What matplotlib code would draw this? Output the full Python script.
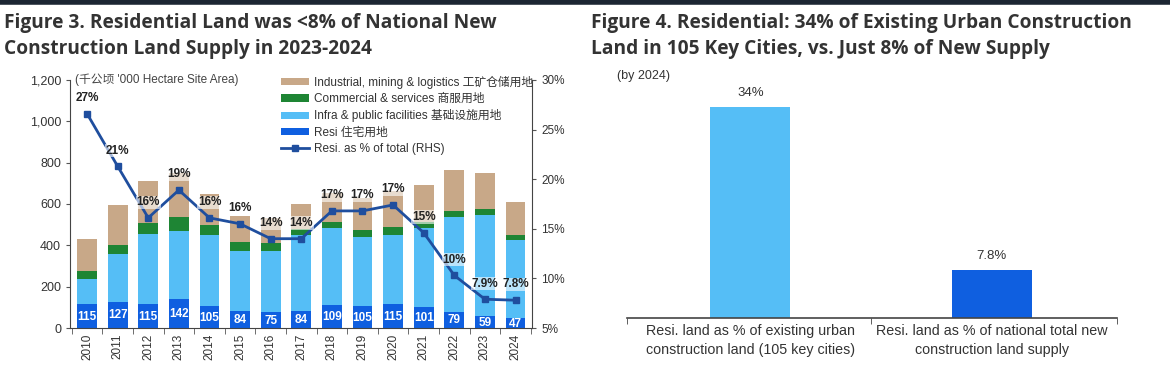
import matplotlib.pyplot as plt
import numpy as np

plt.rcParams['font.family'] = ['Liberation Sans', 'Noto Sans CJK SC', 'DejaVu Sans']

# Figure 3 data ('000 hectares)
years = ["2010", "2011", "2012", "2013", "2014", "2015", "2016", "2017",
         "2018", "2019", "2020", "2021", "2022", "2023", "2024"]
resi = [115, 127, 115, 142, 105, 84, 75, 84, 109, 105, 115, 101, 79, 59, 47]
infra = [122, 231, 340, 326, 345, 290, 299, 368, 374, 334, 337, 383, 457, 489, 379]
commercial = [40, 44, 53, 68, 49, 41, 36, 27, 32, 35, 38, 31, 32, 28, 26]
industrial = [154, 193, 202, 214, 151, 127, 120, 121, 140, 156, 175, 177, 198, 174, 156]
resi_pct = [26.6, 21.3, 16.1, 18.9, 16.1, 15.5, 14.0, 14.0, 16.8, 16.8, 17.4, 14.6, 10.3, 7.9, 7.8]
pct_labels = ["27%", "21%", "16%", "19%", "16%", "16%", "14%", "14%", "17%", "17%",
              "17%", "15%", "10%", "7.9%", "7.8%"]

# Figure 4 data
cats4 = ["Resi. land as % of existing urban\nconstruction land (105 key cities)",
         "Resi. land as % of national total new\nconstruction land supply"]
vals4 = [34, 7.8]
labels4 = ["34%", "7.8%"]

C_IND = "#C8A888"
C_COM = "#1E8534"
C_INF = "#55BEF6"
C_RES = "#0F5FE0"
C_LINE = "#1F4E9E"
TXT = "#333333"

fig = plt.figure(figsize=(11.7, 3.7), dpi=100)
fig.add_artist(plt.Line2D([0, 1], [0.995, 0.995], color="#1c2633", lw=4))

fig.text(0.003, 0.965, "Figure 3. Residential Land was <8% of National New\nConstruction Land Supply in 2023-2024",
         fontsize=13.8, fontweight="bold", color=TXT, va="top", linespacing=1.4,
         family=["Open Sans", "DejaVu Sans"])
fig.text(0.505, 0.965, "Figure 4. Residential: 34% of Existing Urban Construction\nLand in 105 Key Cities, vs. Just 8% of New Supply",
         fontsize=13.8, fontweight="bold", color=TXT, va="top", linespacing=1.4,
         family=["Open Sans", "DejaVu Sans"])

# ---- Figure 3 ----
ax = fig.add_axes([0.060, 0.1135, 0.395, 0.6705])
x = np.arange(len(years))
w = 0.65
b1 = np.array(resi)
b2 = b1 + np.array(infra)
b3 = b2 + np.array(commercial)
ax.bar(x, industrial, w, bottom=b3, color=C_IND, label="Industrial, mining & logistics 工矿仓储用地")
ax.bar(x, commercial, w, bottom=b2, color=C_COM, label="Commercial & services 商服用地")
ax.bar(x, infra, w, bottom=b1, color=C_INF, label="Infra & public facilities 基础设施用地")
ax.bar(x, resi, w, color=C_RES, label="Resi 住宅用地")
for xi, v in zip(x, resi):
    ax.text(xi, v / 2 - 3, str(v), ha="center", va="center", color="white",
            fontsize=8.5, fontweight="bold")

ax.set_xlim(-0.55, 14.55)
ax.set_ylim(0, 1200)
ax.set_yticks(range(0, 1201, 200))
ax.set_yticklabels([f"{v:,}" for v in range(0, 1201, 200)], fontsize=9, color=TXT)
ax.set_xticks(x)
ax.set_xticklabels(years, rotation=90, fontsize=8.5, color=TXT)
ax.tick_params(axis="x", length=0, pad=4)
ax.set_xticks(np.arange(-0.5, 15, 1), minor=True)
ax.tick_params(axis="x", which="minor", length=4, direction="out", color="#555555")
ax.tick_params(axis="y", length=3, color="#555555")
ax.spines["top"].set_visible(False)
ax.spines["right"].set_visible(False)
for s in ["left", "bottom"]:
    ax.spines[s].set_color("#444444")

ax2 = ax.twinx()
ln, = ax2.plot(x, resi_pct, color=C_LINE, lw=2, marker="s", ms=4.5,
               label="Resi. as % of total (RHS)")
ax2.set_ylim(5, 30)
ax2.set_yticks(range(5, 31, 5))
ax2.set_yticklabels([f"{v}%" for v in range(5, 31, 5)], fontsize=8.5, color=TXT)
ax2.tick_params(axis="y", length=3, color="#555555")
ax2.spines["top"].set_visible(False)
ax2.spines["left"].set_visible(False)
ax2.spines["bottom"].set_visible(False)
ax2.spines["right"].set_color("#444444")
for xi, v, lab in zip(x, resi_pct, pct_labels):
    ax2.annotate(lab, (xi, v), xytext=(0, 7), textcoords="offset points",
                 ha="center", va="bottom", fontsize=8.5, fontweight="bold", color="#222222",
                 bbox=dict(boxstyle="square,pad=0.05", fc="white", ec="none", alpha=0.6))

h1, l1 = ax.get_legend_handles_labels()
ax2.legend(h1 + [ln], l1 + ["Resi. as % of total (RHS)"], loc="upper left",
           bbox_to_anchor=(0.445, 1.035), frameon=False, fontsize=8.5,
           handlelength=2.4, handleheight=0.55, handletextpad=0.4,
           labelspacing=0.35, borderaxespad=0, labelcolor=TXT)
ax.text(0.01, 1.0, "(千公顷 '000 Hectare Site Area)", transform=ax.transAxes,
        fontsize=8.5, color="#444444", ha="left", va="center")

# ---- Figure 4 ----
ax4 = fig.add_axes([0.536, 0.1405, 0.419, 0.6695])
x4 = np.arange(len(cats4))
ax4.bar(x4, vals4, 0.33, color=[C_INF, C_RES])
for xi, v, lab in zip(x4, vals4, labels4):
    ax4.text(xi, v + 1.3, lab, ha="center", va="bottom", fontsize=9.5, color=TXT)
ax4.set_xlim(-0.51, 1.52)
ax4.set_ylim(0, 40)
ax4.set_yticks([])
ax4.set_xticks(x4)
ax4.set_xticklabels(cats4, fontsize=10.3, color=TXT, linespacing=1.45)
ax4.tick_params(axis="x", length=0, pad=4)
ax4.set_xticks([-0.51, 0.5, 1.52], minor=True)
ax4.tick_params(axis="x", which="minor", length=4, color="#444444")
for s in ["top", "right", "left"]:
    ax4.spines[s].set_visible(False)
ax4.spines["bottom"].set_color("#444444")
ax4.spines["bottom"].set_linewidth(1.2)
fig.text(617 / 1170, 1 - 76 / 370, "(by 2024)", fontsize=9, color=TXT,
         ha="left", va="center")

fig.savefig("out.png", dpi=100)
